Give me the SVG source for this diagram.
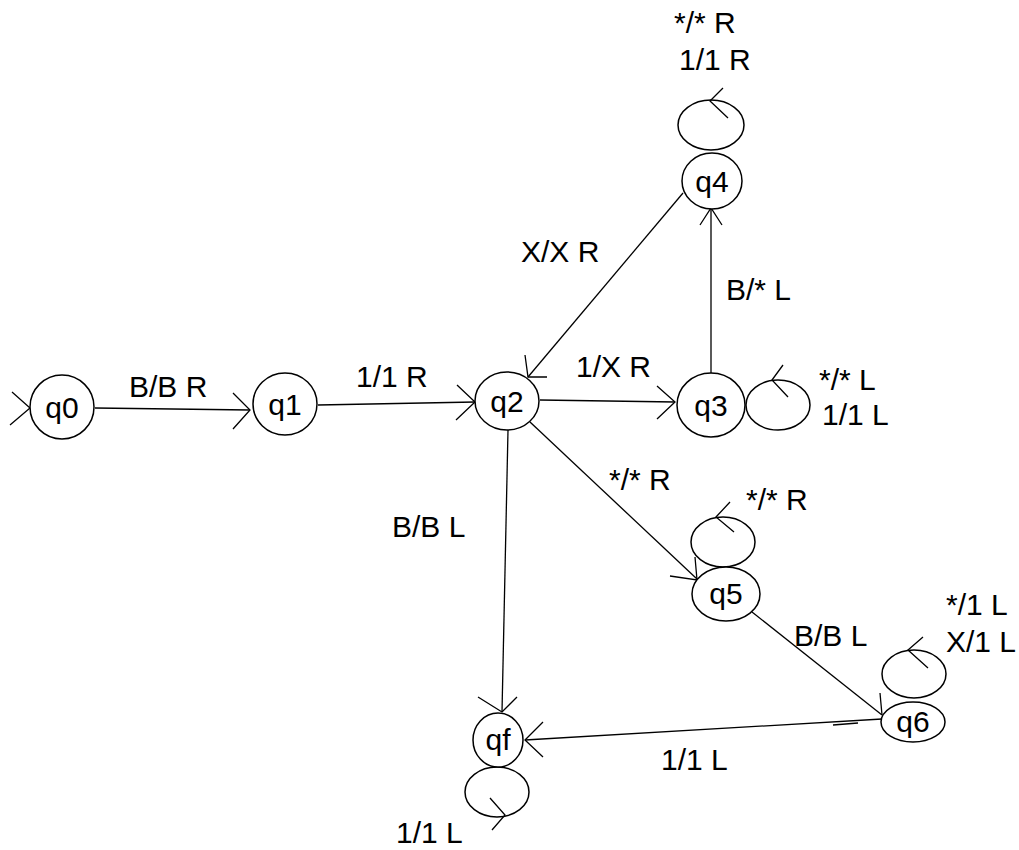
<svg xmlns="http://www.w3.org/2000/svg" width="1019" height="850" viewBox="0 0 1019 850">
  <style>
    .state { fill: #fff; stroke: #000; stroke-width: 1.5; }
    .loop { fill: none; stroke: #000; stroke-width: 1.5; }
    .edge { fill: none; stroke: #000; stroke-width: 1.3; }
    .head { fill: none; stroke: #000; stroke-width: 1.3; }
    .name { font-family: "Liberation Sans", Arial, sans-serif; font-size: 30px; fill: #000; text-anchor: middle; }
    .lbl { font-family: "Liberation Sans", Arial, sans-serif; font-size: 30px; fill: #000; }
  </style>
  <rect width="1019" height="850" fill="#fff"/>

  <!-- transitions -->
  <g id="connectors">
    <!-- start marker into q0 -->
    <polyline class="head" points="12,392 30,408 10,425"/>
    <!-- q0 -> q1 -->
    <line class="edge" x1="95" y1="408" x2="250" y2="410"/>
    <polyline class="head" points="233,393 250,410 233,429"/>
    <text class="lbl" x="129" y="397">B/B R</text>
    <!-- q1 -> q2 -->
    <line class="edge" x1="318" y1="405" x2="475" y2="402"/>
    <polyline class="head" points="457,385 475,402 456,420"/>
    <text class="lbl" x="356" y="387">1/1 R</text>
    <!-- q2 -> q3 -->
    <line class="edge" x1="540" y1="400" x2="675" y2="402"/>
    <polyline class="head" points="657,386 675,402 657,419"/>
    <text class="lbl" x="576" y="377">1/X R</text>
    <!-- q3 -> q4 -->
    <line class="edge" x1="711" y1="373" x2="711" y2="208"/>
    <polyline class="head" points="700,225 711,208 722,225"/>
    <text class="lbl" x="726" y="300">B/* L</text>
    <!-- q4 -> q2 -->
    <line class="edge" x1="683" y1="193" x2="528" y2="377"/>
    <polyline class="head" points="525,355 528,377 547,377"/>
    <text class="lbl" x="521" y="262">X/X R</text>
    <!-- q2 -> qf -->
    <line class="edge" x1="508" y1="430" x2="502" y2="712"/>
    <polyline class="head" points="478,697 502,712 517,697"/>
    <text class="lbl" x="392" y="537">B/B L</text>
    <!-- q2 -> q5 -->
    <line class="edge" x1="530" y1="422" x2="697" y2="579"/>
    <polyline class="head" points="670,576 697,580 695,557"/>
    <text class="lbl" x="609" y="490">*/* R</text>
    <!-- q5 -> q6 -->
    <line class="edge" x1="752" y1="612" x2="882" y2="715"/>
    <polyline class="head" points="880,693 882,715"/>
    <text class="lbl" x="794" y="646">B/B L</text>
    <!-- q6 -> qf -->
    <line class="edge" x1="882" y1="719" x2="525" y2="740"/>
    <line class="edge" x1="833" y1="725" x2="858" y2="723"/>
    <polyline class="head" points="543,722 525,740 543,757"/>
    <text class="lbl" x="661" y="770">1/1 L</text>

    <!-- self loops -->
    <ellipse class="loop" cx="711" cy="125" rx="33" ry="25"/>
    <polyline class="head" points="723,88 710,101 728,118"/>
    <text class="lbl" x="674" y="33">*/* R</text>
    <text class="lbl" x="679" y="70">1/1 R</text>

    <ellipse class="loop" cx="778" cy="405" rx="32" ry="25"/>
    <polyline class="head" points="783,365 772,380 788,397"/>
    <text class="lbl" x="819" y="390">*/* L</text>
    <text class="lbl" x="822" y="425">1/1 L</text>

    <ellipse class="loop" cx="723" cy="542" rx="32" ry="25"/>
    <polyline class="head" points="730,502 716,517 734,532"/>
    <text class="lbl" x="746" y="510">*/* R</text>

    <ellipse class="loop" cx="914" cy="674" rx="32" ry="24"/>
    <polyline class="head" points="923,637 908,650 928,668"/>
    <text class="lbl" x="946" y="615">*/1 L</text>
    <text class="lbl" x="946" y="652">X/1 L</text>

    <ellipse class="loop" cx="497" cy="792" rx="32" ry="25"/>
    <polyline class="head" points="490,798 505,815 492,830"/>
    <text class="lbl" x="396" y="843">1/1 L</text>
  </g>

  <!-- states -->
  <g id="q0"><ellipse class="state" cx="62" cy="407" rx="32" ry="32"/><text class="name" x="62" y="418">q0</text></g>
  <g id="q1"><ellipse class="state" cx="285" cy="404" rx="32" ry="31"/><text class="name" x="285" y="415">q1</text></g>
  <g id="q2"><ellipse class="state" cx="507" cy="401" rx="32" ry="29"/><text class="name" x="507" y="412">q2</text></g>
  <g id="q3"><ellipse class="state" cx="711" cy="405" rx="34" ry="32"/><text class="name" x="711" y="416">q3</text></g>
  <g id="q4"><ellipse class="state" cx="712" cy="181" rx="30" ry="28"/><text class="name" x="712" y="192">q4</text></g>
  <g id="q5"><ellipse class="state" cx="726" cy="594" rx="34" ry="27"/><text class="name" x="726" y="604">q5</text></g>
  <g id="q6"><ellipse class="state" cx="913" cy="722" rx="32" ry="20"/><text class="name" x="913" y="732">q6</text></g>
  <g id="qf"><ellipse class="state" cx="498" cy="740" rx="25" ry="27"/><text class="name" x="498" y="750">qf</text></g>
</svg>
